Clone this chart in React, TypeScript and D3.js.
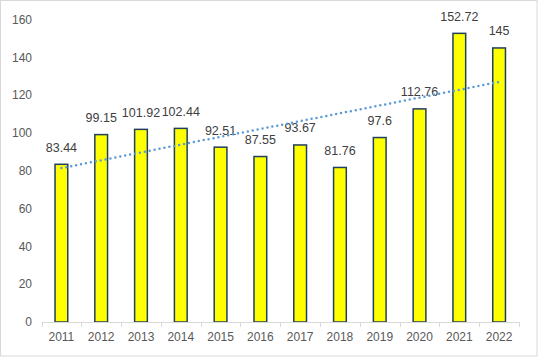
import React from "react";
import * as d3 from "d3";

const years = ["2011","2012","2013","2014","2015","2016","2017","2018","2019","2020","2021","2022"];
const values = [83.44, 99.15, 101.92, 102.44, 92.51, 87.55, 93.67, 81.76, 97.6, 112.76, 152.72, 145];
const valueLabels = ["83.44","99.15","101.92","102.44","92.51","87.55","93.67","81.76","97.6","112.76","152.72","145"];
const yTicks = [0, 20, 40, 60, 80, 100, 120, 140, 160];

const W = 538, H = 357;
const left = 41.5, right = 519, top = 19.6, bottom = 322;
const font = "Arial, 'Liberation Sans', sans-serif";

export default function App() {
  const x = d3.scaleBand<string>().domain(years).range([left, right]).paddingInner(0).paddingOuter(0);
  const y = d3.scaleLinear().domain([0, 160]).range([bottom, top]);
  const bw = x.bandwidth() * 0.32;

  // linear trend
  const n = values.length;
  const mx = d3.mean(d3.range(n)) as number;
  const my = d3.mean(values) as number;
  const slope = d3.sum(values.map((v, i) => (i - mx) * (v - my))) / d3.sum(d3.range(n).map(i => (i - mx) ** 2));
  const icpt = my - slope * mx;
  const trend = d3.line<number>()
    .x(i => (x(years[i]) as number) + x.bandwidth() / 2)
    .y(i => y(icpt + slope * i));

  return (
    <svg width={W} height={H} style={{ position: "fixed", left: 0, top: 0 }} fontFamily={font}>
      <rect x={0.5} y={0.5} width={W - 1.5} height={H - 1.5} fill="#fff" stroke="#d9d9d9" />
      {yTicks.map(t => (
        <text key={t} x={32} y={y(t)} dy="0.35em" textAnchor="end" fontSize={12} fill="#595959">{t}</text>
      ))}
      {years.map((yr, i) => {
        const cx = (x(yr) as number) + x.bandwidth() / 2;
        return (
          <g key={yr}>
            <rect x={cx - bw / 2} y={y(values[i])} width={bw} height={bottom - y(values[i])}
              fill="#ffff00" stroke="#1f3f5f" strokeWidth={1.5} />
            <text x={cx} y={y(values[i]) - 12.5} textAnchor="middle" fontSize={12.5} fill="#404040">{valueLabels[i]}</text>
            <text x={cx} y={341} textAnchor="middle" fontSize={12} fill="#595959">{yr}</text>
          </g>
        );
      })}
      <line x1={left} x2={right} y1={bottom + 0.5} y2={bottom + 0.5} stroke="#d9d9d9" />
      {years.concat(["end"]).map((yr, i) => {
        const tx = Math.round(left + i * x.bandwidth()) + 0.5;
        return <line key={i} x1={tx} x2={tx} y1={bottom} y2={bottom + 5} stroke="#d9d9d9" />;
      })}
      <path d={trend(d3.range(n)) as string} fill="none" stroke="#5b9bd5" strokeWidth={2.5}
        strokeDasharray="0 5" strokeLinecap="round" />
    </svg>
  );
}
